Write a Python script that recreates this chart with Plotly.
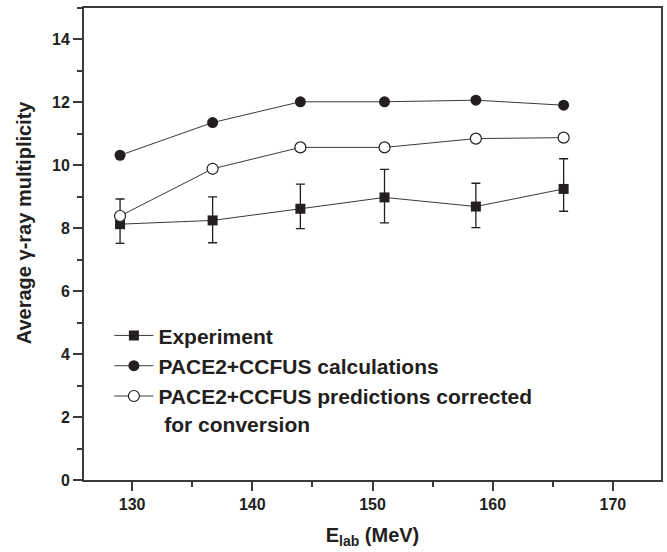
import plotly.graph_objects as go

energy = [129.0, 136.7, 144.0, 151.0, 158.6, 165.9]
exp_mult = [8.13, 8.25, 8.62, 8.98, 8.69, 9.25]
exp_err_plus = [0.80, 0.75, 0.78, 0.89, 0.74, 0.96]
exp_err_minus = [0.61, 0.71, 0.63, 0.81, 0.67, 0.71]
calc_mult = [10.32, 11.36, 12.02, 12.02, 12.07, 11.91]
corr_mult = [8.39, 9.89, 10.57, 10.57, 10.85, 10.88]

names = ["Experiment", "PACE2+CCFUS calculations",
         "PACE2+CCFUS predictions corrected<br> for conversion"]
x_title = "E<sub>lab</sub> (MeV)"
y_title = "Average γ-ray multiplicity"

FONT = "Arial, Liberation Sans, Helvetica, sans-serif"
INK = "#231f20"
LINE = "#3a3a3a"

fig = go.Figure()
fig.add_trace(go.Scatter(
    x=energy, y=exp_mult, name=names[0], mode="lines+markers",
    line=dict(color=LINE, width=1),
    marker=dict(symbol="square", size=10, color=INK),
    error_y=dict(type="data", symmetric=False, array=exp_err_plus,
                 arrayminus=exp_err_minus, color=INK, thickness=1.3, width=4.5),
))
fig.add_trace(go.Scatter(
    x=energy, y=calc_mult, name=names[1], mode="lines+markers",
    line=dict(color=LINE, width=1),
    marker=dict(symbol="circle", size=11, color=INK),
))
fig.add_trace(go.Scatter(
    x=energy, y=corr_mult, name=names[2], mode="lines+markers",
    line=dict(color=LINE, width=1),
    marker=dict(symbol="circle", size=11, color="white",
                line=dict(color=INK, width=1.2)),
))

fig.update_layout(
    width=667, height=552,
    margin=dict(l=84, r=4, t=8, b=72),
    plot_bgcolor="white", paper_bgcolor="white",
    font=dict(family=FONT, color=INK, size=16),
    showlegend=True,
    legend=dict(x=0.044, y=0.349, xanchor="left", yanchor="top",
                bgcolor="rgba(0,0,0,0)", valign="top",
                font=dict(family=FONT, size=21, color=INK, weight="bold"),
                tracegroupgap=0, itemwidth=39),
    annotations=[dict(text=y_title, textangle=-90, xref="paper", yref="paper",
                      x=-0.105, y=0.547, xanchor="center", yanchor="middle",
                      showarrow=False,
                      font=dict(family=FONT, size=20, weight="bold", color=INK))],
)
fig.update_xaxes(
    range=[126, 174], tickvals=[130, 140, 150, 160, 170],
    ticks="outside", ticklen=9, tickwidth=1.5, tickcolor=LINE,
    minor=dict(dtick=5, tick0=125, ticks="outside", ticklen=5, tickwidth=1.5, tickcolor=LINE),
    showline=True, linewidth=2, linecolor=LINE, mirror=True,
    showgrid=False, zeroline=False,
    tickfont=dict(family=FONT, size=16, weight="bold", color=INK),
    title=dict(text=x_title, standoff=16,
               font=dict(family=FONT, size=20, weight="bold", color=INK)),
)
fig.update_yaxes(
    range=[0, 15], tickvals=[0, 2, 4, 6, 8, 10, 12, 14],
    ticks="outside", ticklen=9, tickwidth=1.5, tickcolor=LINE,
    minor=dict(dtick=1, tick0=0, ticks="outside", ticklen=5, tickwidth=1.5, tickcolor=LINE),
    showline=True, linewidth=2, linecolor=LINE, mirror=True,
    showgrid=False, zeroline=False,
    tickfont=dict(family=FONT, size=16, weight="bold", color=INK),
)

fig.write_html("out.html")
